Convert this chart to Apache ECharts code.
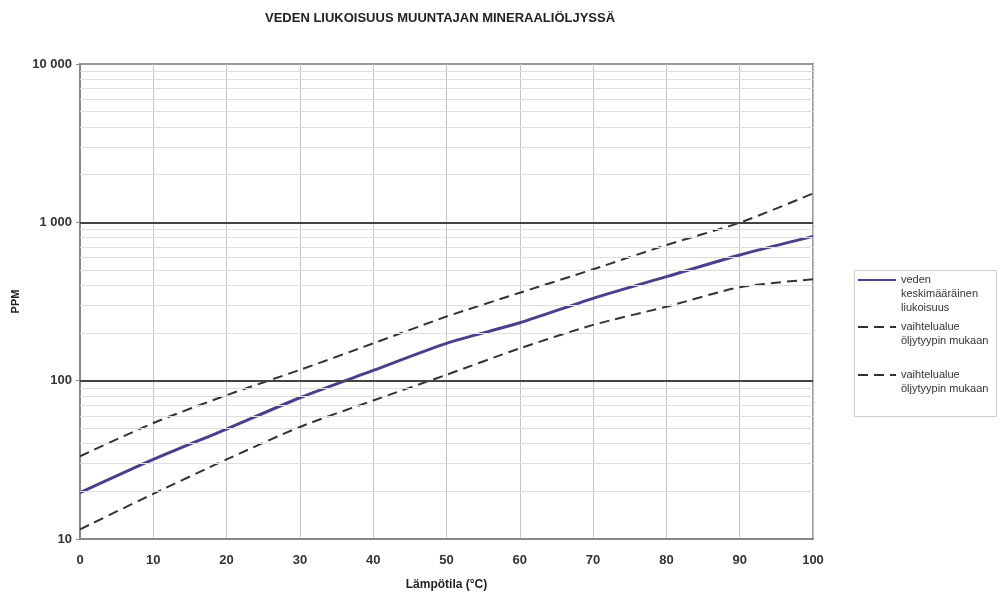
<!DOCTYPE html>
<html>
<head>
<meta charset="utf-8">
<script src="https://cdn.jsdelivr.net/npm/echarts@6/dist/echarts.min.js"></script>
<style>
  html, body { margin: 0; padding: 0; background: #fff; }
  #chart { width: 1000px; height: 599px; }
</style>
</head>
<body>
<div id="chart"></div>
<script>
// lämpötila (°C)
const temps = [0, 10, 20, 30, 40, 50, 60, 70, 80, 90, 100];
// veden keskimääräinen liukoisuus (ppm)
const avgSolubility = [19.6, 31.8, 49.5, 78, 116, 172, 232, 331, 454, 622, 815];
// vaihtelualueen ylä- ja alaraja
const upperRange = [33.3, 54, 81, 117, 172, 254, 359, 505, 719, 995, 1521];
const lowerRange = [11.5, 19.3, 31.8, 51, 75, 109, 160, 225, 293, 389, 437];

const majorLines = [100, 1000];
const minorLines = [20, 30, 40, 50, 60, 70, 80, 90,
  200, 300, 400, 500, 600, 700, 800, 900,
  2000, 3000, 4000, 5000, 6000, 7000, 8000, 9000];

const avgName = "veden\nkeskimääräinen\nliukoisuus";
const rangeName = "vaihtelualue\nöljytyypin mukaan";
const font = "Liberation Sans, Arial, sans-serif";

const pairs = (ys) => temps.map((t, i) => [t, ys[i]]);
const thousands = (v) => String(v).replace(/\B(?=(\d{3})+(?!\d))/g, " ");

const chart = echarts.init(document.getElementById("chart"));

// legend text is centred on the icon, so pad with empty lines to line up the first row
const legendItem = (name, top, blanks) => ({
  orient: "vertical",
  left: 857,
  top: top,
  padding: 0,
  itemWidth: 38,
  itemHeight: 14,
  selectedMode: false,
  itemStyle: { opacity: 0 },
  formatter: (n) => "\n".repeat(blanks) + n,
  textStyle: { fontFamily: font, fontSize: 11, color: "#333", lineHeight: 14 },
  data: [name]
});

chart.setOption({
  animation: false,
  title: {
    text: "VEDEN LIUKOISUUS MUUNTAJAN MINERAALIÖLJYSSÄ",
    left: 260,
    top: 7,
    textStyle: { fontFamily: font, fontSize: 13, fontWeight: "bold", color: "#222" }
  },
  legend: [
    legendItem(avgName, 245, 2),
    legendItem(rangeName, 306, 1),
    legendItem(rangeName, 354, 1)
  ],
  graphic: [{
    type: "rect",
    left: 852,
    top: 268,
    shape: { width: 142, height: 146 },
    style: { fill: "none", stroke: "#ccc", lineWidth: 1 },
    silent: true
  }],
  grid: {
    left: 80,
    right: 187,
    top: 64,
    bottom: 60,
    show: true,
    borderColor: "#999",
    borderWidth: 2
  },
  xAxis: {
    type: "value",
    min: 0,
    max: 100,
    interval: 10,
    name: "Lämpötila (°C)",
    nameLocation: "middle",
    nameGap: 40,
    nameTextStyle: { fontFamily: font, fontSize: 12, fontWeight: "bold", color: "#222" },
    axisLine: { lineStyle: { color: "#888", width: 2 } },
    axisTick: { show: false },
    axisLabel: { margin: 15, fontFamily: font, fontSize: 13, fontWeight: "bold", color: "#333" },
    splitLine: { show: true, lineStyle: { color: "#c4c4c4", width: 1 } }
  },
  yAxis: {
    type: "log",
    logBase: 10,
    min: 10,
    max: 10000,
    name: "PPM",
    nameLocation: "middle",
    nameGap: 51,
    nameRotate: 90,
    nameTextStyle: { fontFamily: font, fontSize: 11, fontWeight: "bold", color: "#222" },
    axisLine: { show: true, lineStyle: { color: "#888", width: 2 } },
    axisTick: { show: true, length: 4, lineStyle: { color: "#888" } },
    axisLabel: {
      margin: 8,
      fontFamily: font,
      fontSize: 13,
      fontWeight: "bold",
      color: "#333",
      formatter: thousands
    },
    splitLine: { show: false }
  },
  series: [
    {
      type: "line",
      name: "grid",
      data: [],
      z: 1,
      silent: true,
      markLine: {
        silent: true,
        symbol: "none",
        label: { show: false },
        data: minorLines.map((v) => ({ yAxis: v, lineStyle: { color: "#dedede", width: 1, type: "solid" } }))
          .concat(majorLines.map((v) => ({ yAxis: v, lineStyle: { color: "#444", width: 2, type: "solid" } })))
      }
    },
    {
      type: "line",
      name: avgName,
      data: pairs(avgSolubility),
      symbol: "none",
      smooth: 0.25,
      z: 4,
      lineStyle: { color: "#4a3f8c", width: 3 },
      itemStyle: { color: "#4a3f8c" }
    },
    {
      type: "line",
      name: rangeName,
      data: pairs(upperRange),
      symbol: "none",
      smooth: 0.25,
      z: 3,
      lineStyle: { color: "#333", width: 2, type: [10, 6] },
      itemStyle: { color: "#333" }
    },
    {
      type: "line",
      name: rangeName,
      data: pairs(lowerRange),
      symbol: "none",
      smooth: 0.25,
      z: 3,
      lineStyle: { color: "#333", width: 2, type: [10, 6] },
      itemStyle: { color: "#333" }
    }
  ]
});
</script>
</body>
</html>
